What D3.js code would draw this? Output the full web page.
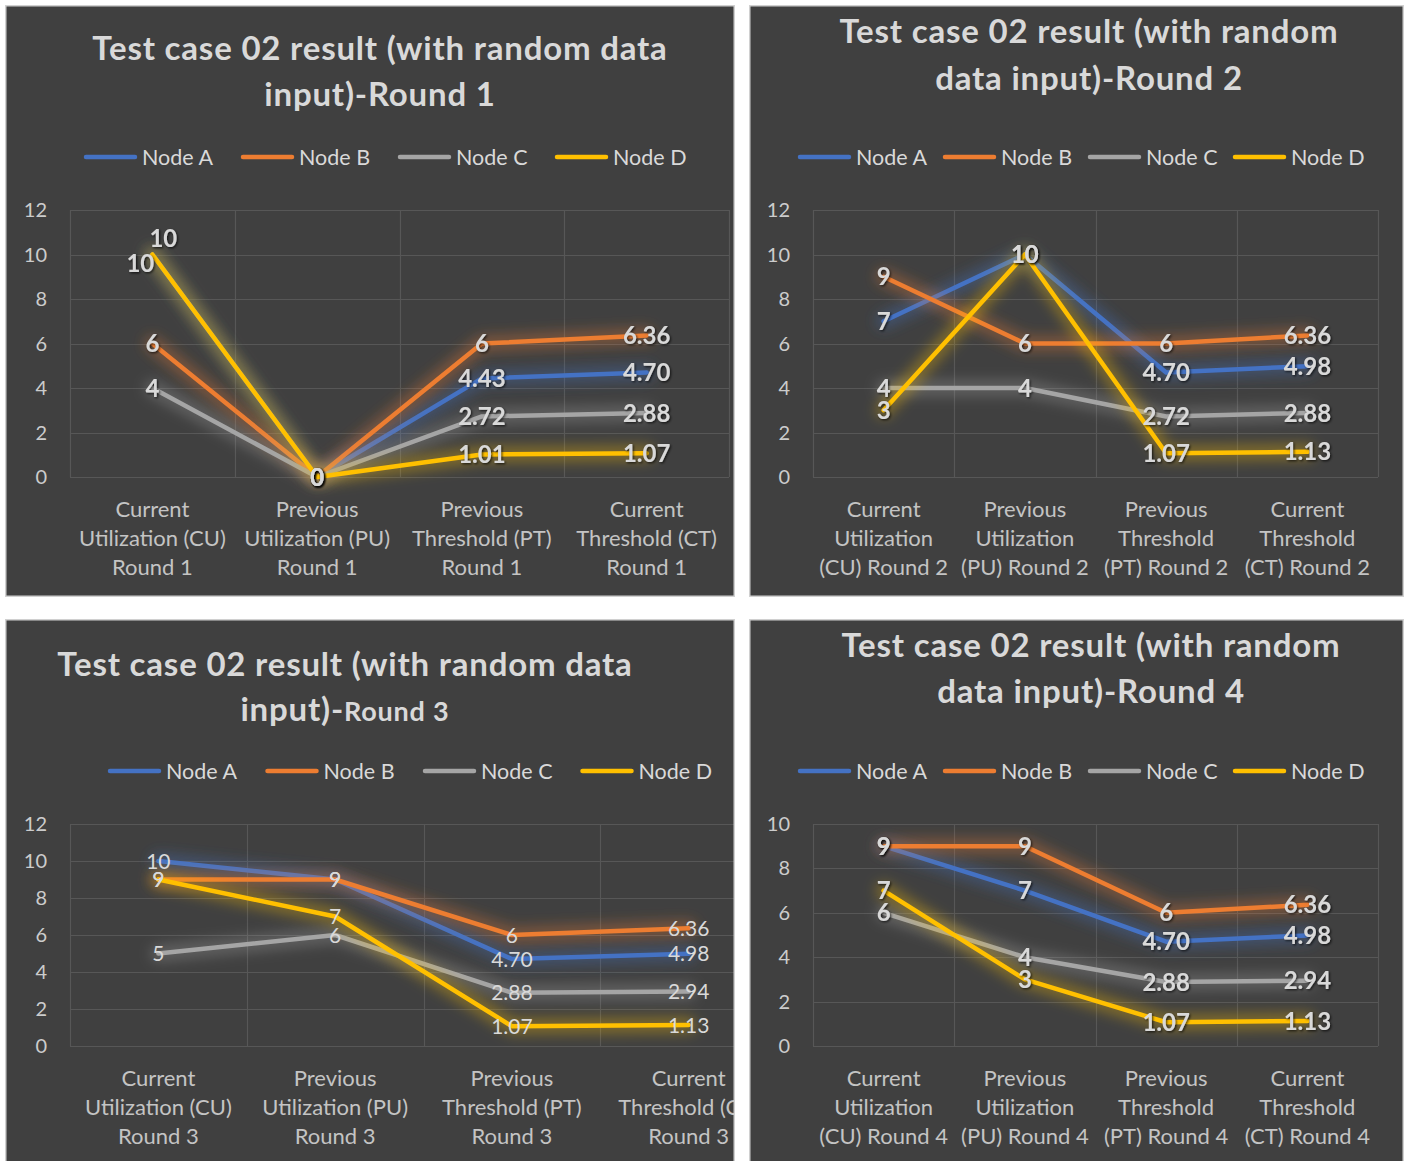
<!DOCTYPE html>
<html>
<head>
<meta charset="utf-8">
<script src="https://cdn.jsdelivr.net/npm/d3@7"></script>
<style>
  html, body { margin: 0; padding: 0; background: #ffffff; }
  svg { display: block; }
  text { font-family: Lato, "Open Sans", "Noto Sans", sans-serif; }
</style>
</head>
<body>
<svg id="chart" width="1409" height="1161"></svg>
<script>
// ---- data ----
const seriesNames = ["Node A", "Node B", "Node C", "Node D"];
const seriesColors = ["#4472C4", "#ED7D31", "#A5A5A5", "#FFC000"];

const titleRound1 = ["Test case 02 result (with random data", "input)-Round 1"];
const titleRound2 = ["Test case 02 result (with random", "data input)-Round 2"];
const titleRound3 = ["Test case 02 result (with random data", "input)-Round 3"];
const titleRound4 = ["Test case 02 result (with random", "data input)-Round 4"];

const categoriesRound1 = [
  "Current\nUtilization (CU)\nRound 1",
  "Previous\nUtilization (PU)\nRound 1",
  "Previous\nThreshold (PT)\nRound 1",
  "Current\nThreshold (CT)\nRound 1"
];
const categoriesRound2 = [
  "Current\nUtilization\n(CU) Round 2",
  "Previous\nUtilization\n(PU) Round 2",
  "Previous\nThreshold\n(PT) Round 2",
  "Current\nThreshold\n(CT) Round 2"
];
const categoriesRound3 = [
  "Current\nUtilization (CU)\nRound 3",
  "Previous\nUtilization (PU)\nRound 3",
  "Previous\nThreshold (PT)\nRound 3",
  "Current\nThreshold (CT)\nRound 3"
];
const categoriesRound4 = [
  "Current\nUtilization\n(CU) Round 4",
  "Previous\nUtilization\n(PU) Round 4",
  "Previous\nThreshold\n(PT) Round 4",
  "Current\nThreshold\n(CT) Round 4"
];

// one row per node: A, B, C, D
const valuesRound1 = [
  [10, 0, 4.43, 4.70],
  [6, 0, 6, 6.36],
  [4, 0, 2.72, 2.88],
  [10, 0, 1.01, 1.07]
];
const valuesRound2 = [
  [7, 10, 4.70, 4.98],
  [9, 6, 6, 6.36],
  [4, 4, 2.72, 2.88],
  [3, 10, 1.07, 1.13]
];
const valuesRound3 = [
  [10, 9, 4.70, 4.98],
  [9, 9, 6, 6.36],
  [5, 6, 2.88, 2.94],
  [9, 7, 1.07, 1.13]
];
const valuesRound4 = [
  [9, 7, 4.70, 4.98],
  [9, 9, 6, 6.36],
  [6, 4, 2.88, 2.94],
  [7, 3, 1.07, 1.13]
];

const yTicksRound1 = [0, 2, 4, 6, 8, 10, 12];
const yTicksRound2 = [0, 2, 4, 6, 8, 10, 12];
const yTicksRound3 = [0, 2, 4, 6, 8, 10, 12];
const yTicksRound4 = [0, 2, 4, 6, 8, 10];

// ---- layout of the four chart panels ----
const panels = [
  { title: titleRound1, cats: categoriesRound1, vals: valuesRound1, ticks: yTicksRound1,
    frame: [5, 5, 735, 597], plot: [70, 210, 729, 477],
    titleX: 380, titleY: [60, 106], legendY: 157, legendX: 84, legendStep: 157,
    labelBold: true, labelSize: 24,
    nudges: [{ s: 0, c: 0, dx: -12, dy: 9 }, { s: 3, c: 0, dx: 11, dy: -16 }] },
  { title: titleRound2, cats: categoriesRound2, vals: valuesRound2, ticks: yTicksRound2,
    frame: [749, 5, 1404, 597], plot: [813, 210, 1378, 477],
    titleX: 1089, titleY: [43, 89.5], legendY: 157, legendX: 798, legendStep: 145,
    labelBold: true, labelSize: 24, nudges: [] },
  { title: titleRound3, cats: categoriesRound3, vals: valuesRound3, ticks: yTicksRound3,
    frame: [5, 619, 735, 1175], plot: [70, 824, 777, 1046],
    titleX: 345, titleY: [676, 721], legendY: 771, legendX: 108, legendStep: 157.5,
    labelBold: false, labelSize: 21, nudges: [],
    tailFrom: 7, tailSize: 27 },
  { title: titleRound4, cats: categoriesRound4, vals: valuesRound4, ticks: yTicksRound4,
    frame: [749, 619, 1404, 1175], plot: [813, 824, 1378, 1046],
    titleX: 1091, titleY: [657, 703], legendY: 771, legendX: 798, legendStep: 145,
    labelBold: true, labelSize: 24, nudges: [] }
];

const svg = d3.select("#chart");
const defs = svg.append("defs");

defs.append("filter")
  .attr("id", "glow")
  .attr("filterUnits", "userSpaceOnUse")
  .attr("x", 0).attr("y", 0).attr("width", 1409).attr("height", 1161)
  .append("feGaussianBlur").attr("stdDeviation", 6.5);

const shadow = defs.append("filter")
  .attr("id", "labelShadow")
  .attr("x", "-30%").attr("y", "-30%").attr("width", "160%").attr("height", "160%");
shadow.append("feDropShadow")
  .attr("dx", 1.2).attr("dy", 1.2).attr("stdDeviation", 1.2)
  .attr("flood-color", "#000").attr("flood-opacity", 0.7);

const fmt = v => Number.isInteger(v) ? String(v) : v.toFixed(2);

panels.forEach((p, pi) => {
  const [fx0, fy0, fx1, fy1] = p.frame;
  const clipId = "clip" + pi;
  defs.append("clipPath").attr("id", clipId)
    .append("rect").attr("x", fx0).attr("y", fy0).attr("width", fx1 - fx0).attr("height", fy1 - fy0);

  const g = svg.append("g").attr("clip-path", `url(#${clipId})`);

  // panel background
  g.append("rect")
    .attr("x", fx0).attr("y", fy0).attr("width", fx1 - fx0).attr("height", fy1 - fy0)
    .attr("fill", "#404040");

  // title
  p.title.forEach((line, li) => {
    const t = g.append("text")
      .attr("x", p.titleX).attr("y", p.titleY[li])
      .attr("text-anchor", "middle")
      .attr("font-size", 33).attr("font-weight", "bold")
      .attr("letter-spacing", 0.8)
      .attr("fill", "#d9d9d9");
    if (li === 1 && p.tailFrom !== undefined) {
      t.append("tspan").text(line.slice(0, p.tailFrom));
      t.append("tspan").attr("font-size", p.tailSize).text(line.slice(p.tailFrom));
    } else {
      t.text(line);
    }
  });

  // legend
  seriesNames.forEach((name, si) => {
    const lx = p.legendX + si * p.legendStep;
    g.append("line")
      .attr("x1", lx + 2).attr("x2", lx + 51)
      .attr("y1", p.legendY).attr("y2", p.legendY)
      .attr("stroke", seriesColors[si]).attr("stroke-width", 4.5)
      .attr("stroke-linecap", "round");
    g.append("text")
      .attr("x", lx + 58).attr("y", p.legendY + 7.5)
      .attr("font-size", 21.5).attr("fill", "#d9d9d9")
      .text(name);
  });

  const [px0, py0, px1, py1] = p.plot;
  const yMax = d3.max(p.ticks);
  const x = d3.scaleBand().domain(d3.range(p.cats.length)).range([px0, px1]).padding(0);
  const y = d3.scaleLinear().domain([0, yMax]).range([py1, py0]);
  const cx = i => x(i) + x.bandwidth() / 2;

  // gridlines
  const grid = g.append("g").attr("stroke", "#575757").attr("stroke-width", 1.2);
  p.ticks.forEach(t => {
    grid.append("line").attr("x1", px0).attr("x2", px1)
      .attr("y1", Math.round(y(t)) + 0.5).attr("y2", Math.round(y(t)) + 0.5);
  });
  d3.range(p.cats.length + 1).forEach(i => {
    const xv = i < p.cats.length ? x(i) : px1;
    grid.append("line").attr("x1", Math.round(xv) + 0.5).attr("x2", Math.round(xv) + 0.5)
      .attr("y1", py0).attr("y2", py1);
  });

  // y tick labels
  p.ticks.forEach(t => {
    g.append("text")
      .attr("x", px0 - 23).attr("y", y(t) + 7)
      .attr("text-anchor", "end")
      .attr("font-size", 20).attr("fill", "#cccccc")
      .text(t);
  });

  // category labels
  p.cats.forEach((c, ci) => {
    const t = g.append("text")
      .attr("text-anchor", "middle")
      .attr("font-size", 22).attr("fill", "#c4c4c4");
    c.split("\n").forEach((ln, k) => {
      t.append("tspan").attr("x", cx(ci)).attr("y", py1 + 39.5 + k * 29).text(ln);
    });
  });

  // lines with a soft glow
  const line = d3.line().x((d, i) => cx(i)).y(d => y(d));
  p.vals.forEach((row, si) => {
    g.append("path")
      .attr("d", line(row))
      .attr("fill", "none")
      .attr("stroke", seriesColors[si])
      .attr("stroke-width", 16)
      .attr("stroke-opacity", 0.34)
      .attr("stroke-linejoin", "round")
      .attr("stroke-linecap", "round")
      .attr("filter", "url(#glow)");
    g.append("path")
      .attr("d", line(row))
      .attr("fill", "none")
      .attr("stroke", seriesColors[si])
      .attr("stroke-width", 4.5)
      .attr("stroke-linejoin", "round")
      .attr("stroke-linecap", "round");
  });

  // data labels centred on their points
  p.vals.forEach((row, si) => {
    row.forEach((v, ci) => {
      const n = p.nudges.find(o => o.s === si && o.c === ci);
      const t = g.append("text")
        .attr("x", cx(ci) + (n ? n.dx : 0))
        .attr("y", y(v) + (n ? n.dy : 0))
        .attr("dy", "0.36em")
        .attr("text-anchor", "middle")
        .attr("font-size", p.labelSize)
        .attr("font-weight", p.labelBold ? "bold" : "normal")
        .attr("fill", "#d9d9d9")
        .text(fmt(v));
      if (p.labelBold) t.attr("filter", "url(#labelShadow)");
    });
  });

  // frame border on top
  g.append("rect")
    .attr("x", fx0 + 0.75).attr("y", fy0 + 0.75)
    .attr("width", fx1 - fx0 - 1.5).attr("height", fy1 - fy0 - 1.5)
    .attr("fill", "none").attr("stroke", "#d0d0d0").attr("stroke-width", 1.5);
});
</script>
</body>
</html>
